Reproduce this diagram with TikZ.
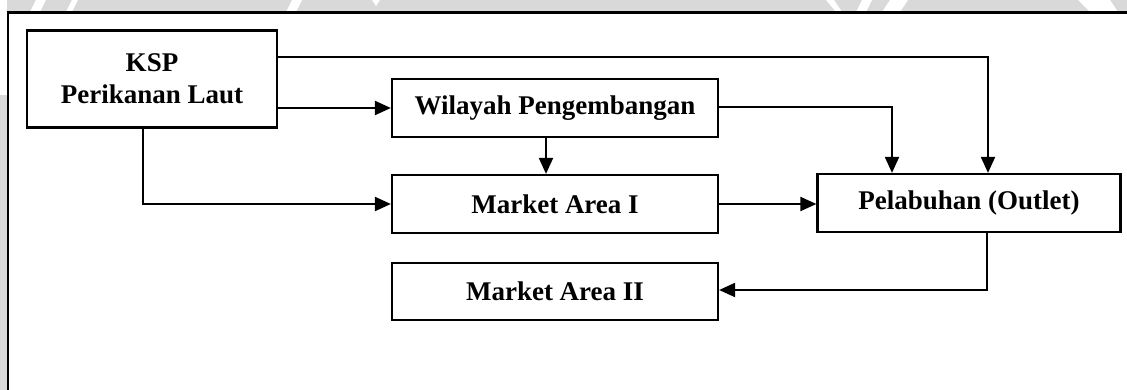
\documentclass[tikz,border=0pt]{standalone}
\usepackage{fontspec}
\setmainfont{Liberation Serif}
\usetikzlibrary{arrows.meta,calc}
\begin{document}
\begin{tikzpicture}[x=1pt,y=-1pt,
  box/.style={draw=black,line width=2.2pt,fill=white,inner sep=0pt,align=center,
    font=\fontsize{27}{32}\selectfont\bfseries},
  link/.style={line width=2pt,-{Triangle[length=16pt,width=14pt]}}]
\useasboundingbox (0,0) rectangle (1127,390);
% light grey strips along the top and left edges
\fill[black!15] (0,0) rectangle (1127,12);
\fill[black!15] (0,0) rectangle (7,390);
\fill[white] (0,0) rectangle (7,95);
\fill[white] (36,0) -- (46,0) -- (40,12) -- (30,12) -- cycle;
\fill[white] (72,0) -- (78,0) -- (72,12) -- (66,12) -- cycle;
\fill[white] (292,0) -- (302,0) -- (296,12) -- (286,12) -- cycle;
\fill[white] (372,0) -- (380,0) -- (376,6) -- cycle;
\fill[white] (826,0) -- (834,0) -- (842,12) -- (836,12) -- cycle;
\fill[white] (862,0) -- (872,0) -- (866,12) -- (856,12) -- cycle;
\fill[white] (890,0) -- (908,0) -- (900,12) -- (882,12) -- cycle;
\fill[white] (1078,0) -- (1110,0) -- (1118,12) -- (1090,12) -- cycle;
% outer frame
\draw[line width=2.2pt] (8,400) -- (8,12.5) -- (1140,12.5);
% blocks
\node[box,minimum width=250pt,minimum height=97pt] (ksp) at (152,79) {KSP\\Perikanan Laut};
\node[box,minimum width=326pt,minimum height=58pt] (wil) at (555,108) {Wilayah Pengembangan};
\node[box,minimum width=326pt,minimum height=58pt] (ma1) at (555,204) {Market Area I};
\node[box,minimum width=303pt,minimum height=58pt] (pel) at (969,203) {Pelabuhan (Outlet)};
\node[box,minimum width=326pt,minimum height=57pt] (ma2) at (555,291.5) {Market Area II};
% connectors
\coordinate (k1) at ($(ksp.north east)+(0,28)$);
\draw[link] (k1) -| ($(pel.north)+(19,0)$);
\draw[link] (ksp.east |- wil.west) -- (wil.west);
\draw[link] ($(wil.east)+(0,-1)$) -| ($(pel.north)+(-77,0)$);
\draw[link] ($(wil.south)+(-9,0)$) -- ($(ma1.north)+(-9,0)$);
\draw[link] ($(ksp.south)+(-9,0)$) |- (ma1.west);
\draw[link] (ma1.east) -- (ma1.east -| pel.west);
\draw[link] ($(pel.south)+(18,0)$) |- ($(ma2.east)+(0,-1.5)$);
\end{tikzpicture}
\end{document}
